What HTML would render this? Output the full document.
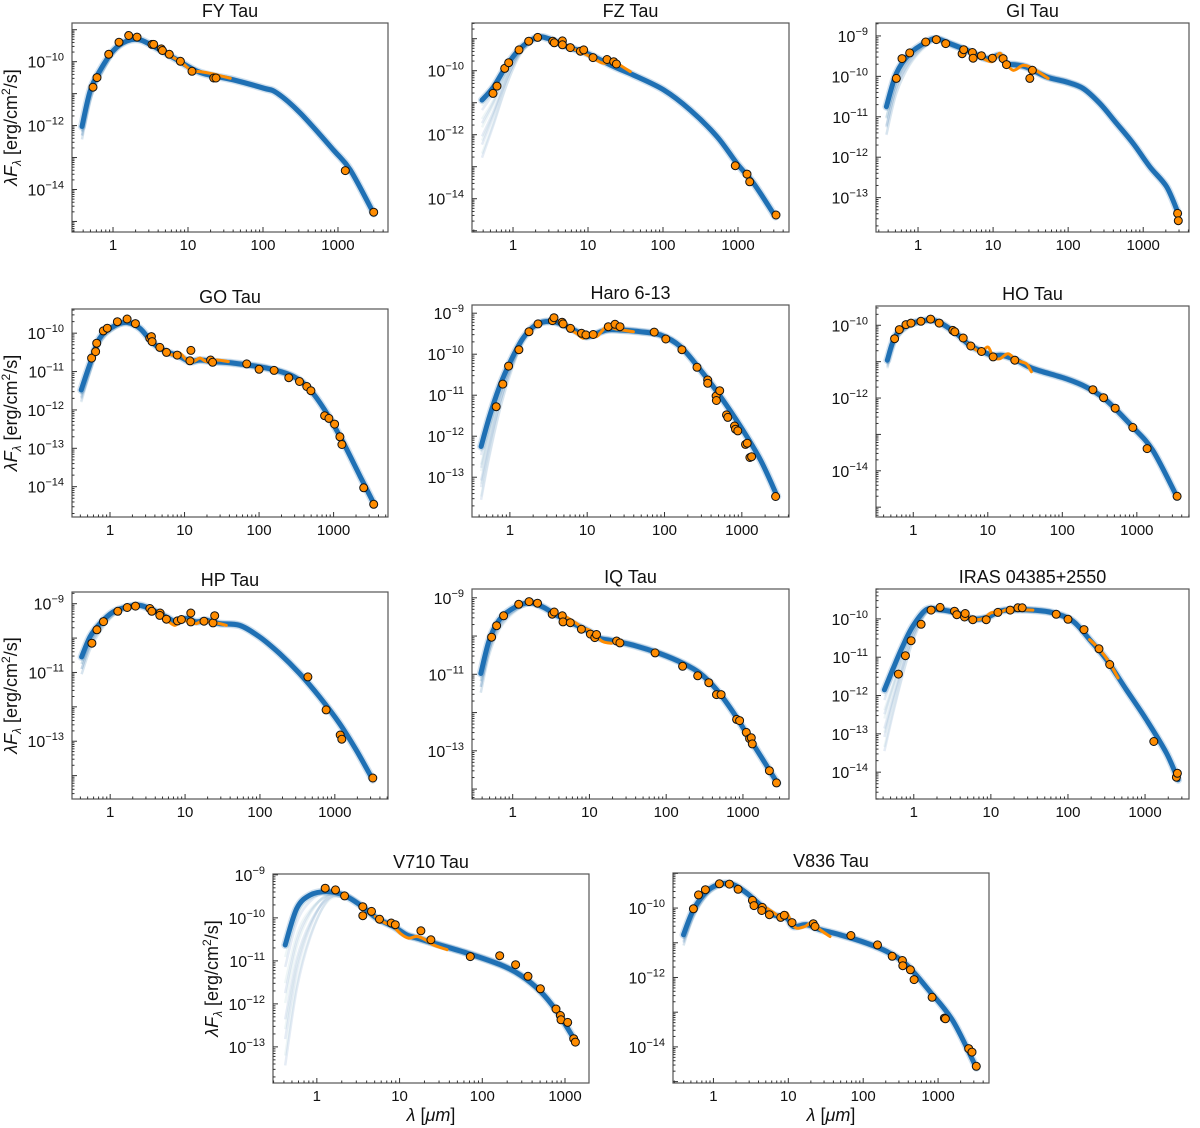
<!DOCTYPE html>
<html><head><meta charset="utf-8"><title>SED fits</title>
<style>
html,body{margin:0;padding:0;background:#fff;}
svg{display:block;font-family:"Liberation Sans","DejaVu Sans",sans-serif;}
</style></head>
<body>
<svg id="fig" width="1200" height="1128" viewBox="0 0 1200 1128" xmlns="http://www.w3.org/2000/svg"></svg>
<script>
// ---- Data (log10 wavelength [um], log10 lambda*F_lambda [erg/cm2/s]) ----
const fyModelX=[-0.413,-0.302,-0.169,0.009,0.187,0.364,0.587,0.853,1.164,1.609,2.009,2.187,2.498,2.942,3.164,3.476];
const fyModelY=[-12.03,-10.89,-10.26,-9.64,-9.35,-9.32,-9.58,-9.94,-10.34,-10.57,-10.83,-10.98,-11.61,-12.77,-13.39,-14.75];
const fyPtsX=[-0.267,-0.213,-0.058,0.08,0.209,0.32,0.52,0.542,0.644,0.658,0.751,0.898,1.053,1.342,1.373,3.098,3.476];
const fyPtsY=[-10.80,-10.50,-9.77,-9.39,-9.18,-9.23,-9.46,-9.46,-9.60,-9.65,-9.77,-9.99,-10.30,-10.51,-10.51,-13.41,-14.71];
const fySpecX=[0.698,0.898,1.053,1.164,1.342,1.564];
const fySpecY=[-9.74,-10.0,-10.29,-10.31,-10.39,-10.52];

const fzModelX=[-0.413,-0.258,-0.08,0.098,0.32,0.498,0.72,0.987,1.342,1.609,2.009,2.364,2.72,2.987,3.209,3.498];
const fzModelY=[-10.92,-10.5,-9.82,-9.30,-8.96,-9.02,-9.25,-9.46,-9.87,-10.14,-10.60,-11.23,-12.06,-12.90,-13.52,-14.56];
const fzPtsX=[-0.267,-0.213,-0.111,-0.058,0.08,0.209,0.329,0.529,0.551,0.658,0.658,0.764,0.898,0.942,1.067,1.253,1.342,1.378,2.964,3.12,3.156,3.507];
const fzPtsY=[-10.71,-10.48,-9.93,-9.75,-9.35,-9.08,-8.96,-9.08,-9.13,-9.07,-9.19,-9.28,-9.39,-9.35,-9.59,-9.65,-9.72,-9.79,-12.97,-13.23,-13.47,-14.51];
const fzSpecX=[0.72,0.898,1.076,1.209,1.342,1.431,1.564];
const fzSpecY=[-9.25,-9.41,-9.62,-9.77,-9.67,-9.83,-10.03];

const giModelX=[-0.422,-0.289,-0.111,0.111,0.244,0.422,0.644,0.911,1.089,1.178,1.311,1.444,1.711,1.978,2.2,2.422,2.644,2.867,3.089,3.311,3.467];
const giModelY=[-10.75,-9.93,-9.44,-9.15,-9.07,-9.19,-9.35,-9.56,-9.48,-9.68,-9.72,-9.77,-10.01,-10.14,-10.30,-10.67,-11.16,-11.66,-12.24,-12.73,-13.39];
const giPtsX=[-0.289,-0.213,-0.111,0.102,0.244,0.369,0.587,0.609,0.724,0.733,0.844,0.991,1.133,1.178,1.524,1.489,3.458,3.467];
const giPtsY=[-10.05,-9.56,-9.42,-9.15,-9.09,-9.19,-9.44,-9.34,-9.41,-9.55,-9.49,-9.55,-9.56,-9.71,-9.85,-10.05,-13.39,-13.57];
const giSpecX=[0.8,0.978,1.089,1.156,1.267,1.4,1.533,1.733];
const giSpecY=[-9.48,-9.64,-9.43,-9.64,-9.85,-9.73,-9.81,-10.05];

const goModelX=[-0.386,-0.274,-0.139,0.04,0.22,0.399,0.578,0.758,0.937,1.072,1.206,1.386,1.655,2.103,2.462,2.686,2.91,3.135,3.359,3.538];
const goModelY=[-11.48,-10.83,-10.13,-9.83,-9.72,-9.87,-10.26,-10.48,-10.61,-10.74,-10.70,-10.74,-10.78,-10.91,-11.13,-11.48,-12.09,-12.87,-13.74,-14.43];
const goPtsX=[-0.247,-0.193,-0.179,-0.09,-0.036,0.099,0.229,0.341,0.534,0.556,0.565,0.668,0.758,0.901,1.085,1.072,1.35,1.377,1.834,2.0,2.202,2.399,2.543,2.641,2.695,2.879,2.937,3.013,3.085,3.112,3.404,3.538];
const goPtsY=[-10.65,-10.48,-10.26,-9.94,-9.87,-9.70,-9.63,-9.75,-10.13,-10.09,-10.22,-10.37,-10.50,-10.57,-10.45,-10.72,-10.70,-10.76,-10.80,-10.94,-10.97,-11.16,-11.26,-11.39,-11.50,-12.15,-12.22,-12.37,-12.70,-12.90,-14.03,-14.46];
const goSpecX=[0.735,0.848,0.937,1.027,1.117,1.206,1.296,1.43,1.587];
const goSpecY=[-10.48,-10.57,-10.52,-10.70,-10.74,-10.65,-10.74,-10.70,-10.74];

const haModelX=[-0.372,-0.264,-0.134,-0.004,0.169,0.342,0.515,0.688,0.905,0.991,1.078,1.251,1.424,1.684,1.944,2.203,2.463,2.723,2.983,3.242,3.459];
const haModelY=[-12.25,-11.52,-10.79,-10.22,-9.61,-9.28,-9.20,-9.28,-9.49,-9.57,-9.53,-9.41,-9.41,-9.45,-9.53,-9.81,-10.38,-11.03,-11.76,-12.58,-13.47];
const haPtsX=[-0.177,-0.091,-0.017,0.117,0.247,0.364,0.55,0.571,0.675,0.688,0.784,0.926,0.983,1.078,1.273,1.359,1.424,1.866,2.017,2.225,2.42,2.558,2.558,2.667,2.671,2.714,2.801,2.818,2.905,2.918,2.948,3.048,3.069,3.104,3.126,3.437];
const haPtsY=[-11.28,-10.73,-10.29,-9.89,-9.45,-9.26,-9.18,-9.11,-9.22,-9.26,-9.37,-9.49,-9.53,-9.52,-9.33,-9.27,-9.33,-9.46,-9.63,-9.89,-10.32,-10.63,-10.71,-11.02,-11.13,-10.89,-11.48,-11.54,-11.75,-11.83,-11.87,-12.20,-12.17,-12.52,-12.50,-13.47];
const haSpecX=[0.753,0.861,0.948,1.035,1.121,1.251,1.381,1.597];
const haSpecY=[-9.37,-9.49,-9.61,-9.49,-9.57,-9.33,-9.39,-9.45];

const hoModelX=[-0.348,-0.246,-0.089,0.179,0.357,0.58,0.759,0.938,1.071,1.205,1.384,1.607,2.054,2.321,2.589,2.946,3.214,3.54];
const hoModelY=[-10.96,-10.32,-10.0,-9.86,-9.93,-10.23,-10.55,-10.73,-10.83,-10.83,-10.96,-11.19,-11.47,-11.70,-12.06,-12.80,-13.44,-14.72];
const hoPtsX=[-0.25,-0.188,-0.098,-0.031,0.103,0.232,0.348,0.531,0.558,0.67,0.772,0.915,1.071,1.362,2.411,2.554,2.71,2.946,3.138,3.54];
const hoPtsY=[-10.37,-10.12,-9.98,-9.94,-9.89,-9.83,-9.94,-10.14,-10.18,-10.35,-10.57,-10.72,-10.87,-10.96,-11.77,-11.99,-12.28,-12.81,-13.39,-14.70];
const hoSpecX=[0.737,0.893,1.004,1.071,1.161,1.272,1.384,1.518,1.585];
const hoSpecY=[-10.50,-10.73,-10.60,-10.87,-10.92,-10.78,-10.96,-11.06,-11.28];

const hpModelX=[-0.382,-0.271,-0.138,0.04,0.218,0.396,0.573,0.751,0.884,1.018,1.151,1.284,1.462,1.729,1.996,2.262,2.529,2.796,3.062,3.284,3.507];
const hpModelY=[-10.55,-9.97,-9.58,-9.24,-9.10,-9.05,-9.19,-9.39,-9.53,-9.43,-9.53,-9.48,-9.58,-9.63,-9.97,-10.45,-11.03,-11.71,-12.48,-13.25,-14.12];
const hpPtsX=[-0.244,-0.178,-0.089,0.102,0.227,0.338,0.529,0.556,0.667,0.662,0.751,0.898,0.951,1.076,1.076,1.253,1.373,1.396,2.64,2.884,3.071,3.093,3.507];
const hpPtsY=[-10.15,-9.76,-9.52,-9.22,-9.11,-9.07,-9.14,-9.22,-9.27,-9.34,-9.45,-9.50,-9.46,-9.27,-9.53,-9.51,-9.56,-9.35,-11.13,-12.09,-12.82,-12.94,-14.07];
const hpSpecX=[0.729,0.862,0.951,1.062,1.151,1.24,1.329,1.462,1.551];
const hpSpecY=[-9.43,-9.63,-9.48,-9.53,-9.58,-9.48,-9.53,-9.58,-9.63];

const iqModelX=[-0.415,-0.306,-0.175,0,0.218,0.393,0.568,0.786,1.004,1.135,1.266,1.572,1.921,2.227,2.445,2.664,2.882,3.1,3.319,3.45];
const iqModelY=[-10.98,-10.11,-9.58,-9.28,-9.13,-9.24,-9.45,-9.67,-9.89,-10.06,-10.11,-10.24,-10.46,-10.72,-10.98,-11.42,-12.02,-12.72,-13.42,-13.85];
const iqPtsX=[-0.275,-0.21,-0.118,0.079,0.214,0.323,0.515,0.541,0.646,0.655,0.751,0.895,1.013,1.07,1.092,1.354,1.397,1.856,2.214,2.41,2.555,2.655,2.716,2.917,2.956,3.044,3.087,3.109,3.122,3.345,3.437];
const iqPtsY=[-10.03,-9.73,-9.47,-9.17,-9.10,-9.14,-9.43,-9.37,-9.47,-9.63,-9.65,-9.82,-9.95,-10.04,-9.96,-10.13,-10.18,-10.44,-10.79,-11.04,-11.22,-11.53,-11.53,-12.18,-12.21,-12.52,-12.68,-12.66,-12.82,-13.52,-13.84];
const iqSpecX=[0.699,0.83,0.917,1.004,1.092,1.179,1.288];
const iqSpecY=[-9.50,-9.67,-9.80,-9.85,-10.02,-10.15,-10.19];

const irModelX=[-0.381,-0.273,-0.143,-0.013,0.16,0.333,0.55,0.766,0.939,1.113,1.286,1.545,1.805,2.065,2.281,2.498,2.758,3.017,3.277,3.429];
const irModelY=[-11.85,-11.32,-10.71,-10.19,-9.76,-9.76,-9.84,-10.0,-9.97,-9.80,-9.76,-9.77,-9.84,-10.06,-10.54,-11.06,-11.85,-12.63,-13.50,-14.20];
const irPtsX=[-0.199,-0.108,-0.035,0.095,0.225,0.342,0.528,0.558,0.658,0.667,0.766,0.939,1.091,1.251,1.351,1.407,1.848,2.0,2.208,2.403,2.541,3.113,3.407,3.42];
const irPtsY=[-11.44,-10.96,-10.57,-10.14,-9.77,-9.70,-9.80,-9.89,-9.95,-9.86,-10.02,-10.02,-9.83,-9.77,-9.71,-9.71,-9.88,-10.01,-10.28,-10.78,-11.19,-13.20,-14.13,-14.03];
const irSpecX=[0.701,0.81,0.918,1.004,1.113,1.199,1.329,1.545];
const irSpecY=[-9.93,-10.02,-9.97,-9.84,-9.84,-9.76,-9.76,-9.77];
const irSpec2X=[2.281,2.411,2.541,2.649];
const irSpec2Y=[-10.54,-10.80,-11.15,-11.54];

const v7ModelX=[-0.383,-0.242,-0.081,0.121,0.323,0.524,0.726,0.927,1.089,1.21,1.411,1.815,2.218,2.46,2.702,2.903,3.105];
const v7ModelY=[-10.63,-9.78,-9.47,-9.39,-9.47,-9.70,-10.01,-10.20,-10.40,-10.47,-10.59,-10.82,-11.09,-11.33,-11.71,-12.18,-12.80];
const v7PtsX=[0.101,0.226,0.335,0.556,0.556,0.661,0.758,0.899,0.948,1.258,1.379,1.855,2.21,2.403,2.552,2.702,2.891,2.944,2.952,3.032,3.105,3.125];
const v7PtsY=[-9.31,-9.35,-9.49,-9.74,-9.95,-9.85,-10.03,-10.12,-10.16,-10.30,-10.51,-10.90,-10.88,-11.09,-11.36,-11.65,-12.12,-12.27,-12.37,-12.43,-12.81,-12.89];
const v7SpecX=[0.706,0.827,0.907,1.008,1.109,1.21,1.31,1.411,1.573];
const v7SpecY=[-9.97,-10.12,-10.16,-10.36,-10.47,-10.43,-10.51,-10.63,-10.74];

const v8ModelX=[-0.4,-0.267,-0.089,0.089,0.267,0.444,0.622,0.8,0.978,1.067,1.244,1.422,1.689,2.044,2.311,2.578,2.889,3.2,3.511];
const v8ModelY=[-10.77,-10.05,-9.52,-9.31,-9.33,-9.57,-9.90,-10.19,-10.29,-10.53,-10.48,-10.62,-10.77,-11.01,-11.25,-11.63,-12.40,-13.26,-14.60];
const v8PtsX=[-0.267,-0.2,-0.107,0.08,0.213,0.329,0.52,0.542,0.653,0.644,0.747,0.898,0.947,1.049,1.333,1.356,1.836,2.191,2.387,2.524,2.529,2.631,2.68,2.92,3.084,3.098,3.409,3.453,3.511];
const v8PtsY=[-10.02,-9.62,-9.47,-9.30,-9.31,-9.46,-9.78,-9.93,-9.98,-10.07,-10.19,-10.27,-10.21,-10.42,-10.45,-10.53,-10.79,-11.06,-11.39,-11.51,-11.66,-11.78,-12.06,-12.57,-13.17,-13.19,-14.05,-14.15,-14.56];
const v8SpecX=[0.711,0.844,0.911,0.978,1.044,1.111,1.222,1.311,1.422,1.556];
const v8SpecY=[-10.0,-10.19,-10.29,-10.14,-10.43,-10.58,-10.53,-10.43,-10.62,-10.82];

const xTickValues=[1,10,100,1000];
const xTickLabels=["1","10","100","1000"];

const panels=[
 {id:"fy-tau",title:"FY Tau",x0:72,x1:388,y0:23,y1:232,lx:[-0.547,3.667],ly:[-15.33,-8.79],yt:[-10,-12,-14],mx:fyModelX,my:fyModelY,px:fyPtsX,py:fyPtsY,sx:[fySpecX],sy:[fySpecY],spread:0.4,ylab:true},
 {id:"fz-tau",title:"FZ Tau",x0:472,x1:789,y0:23,y1:232,lx:[-0.547,3.68],ly:[-15.04,-8.51],yt:[-10,-12,-14],mx:fzModelX,my:fzModelY,px:fzPtsX,py:fzPtsY,sx:[fzSpecX],sy:[fzSpecY],spread:1.8},
 {id:"gi-tau",title:"GI Tau",x0:876,x1:1189,y0:23,y1:232,lx:[-0.56,3.61],ly:[-13.85,-8.68],yt:[-9,-10,-11,-12,-13],mx:giModelX,my:giModelY,px:giPtsX,py:giPtsY,sx:[giSpecX],sy:[giSpecY],spread:0.7},
 {id:"go-tau",title:"GO Tau",x0:72,x1:388,y0:309,y1:517,lx:[-0.51,3.73],ly:[-14.79,-9.37],yt:[-10,-11,-12,-13,-14],mx:goModelX,my:goModelY,px:goPtsX,py:goPtsY,sx:[goSpecX],sy:[goSpecY],spread:0.3,ylab:true},
 {id:"haro-6-13",title:"Haro 6-13",x0:472,x1:789,y0:305,y1:517,lx:[-0.49,3.61],ly:[-13.97,-8.80],yt:[-9,-10,-11,-12,-13],mx:haModelX,my:haModelY,px:haPtsX,py:haPtsY,sx:[haSpecX],sy:[haSpecY],spread:1.3},
 {id:"ho-tau",title:"HO Tau",x0:876,x1:1189,y0:306,y1:517,lx:[-0.50,3.70],ly:[-15.27,-9.47],yt:[-10,-12,-14],mx:hoModelX,my:hoModelY,px:hoPtsX,py:hoPtsY,sx:[hoSpecX],sy:[hoSpecY],spread:0.2},
 {id:"hp-tau",title:"HP Tau",x0:72,x1:388,y0:592,y1:799,lx:[-0.51,3.71],ly:[-14.68,-8.66],yt:[-9,-11,-13],mx:hpModelX,my:hpModelY,px:hpPtsX,py:hpPtsY,sx:[hpSpecX],sy:[hpSpecY],spread:0.5,ylab:true},
 {id:"iq-tau",title:"IQ Tau",x0:472,x1:789,y0:589,y1:799,lx:[-0.53,3.60],ly:[-14.26,-8.77],yt:[-9,-11,-13],mx:iqModelX,my:iqModelY,px:iqPtsX,py:iqPtsY,sx:[iqSpecX],sy:[iqSpecY],spread:0.5},
 {id:"iras-04385",title:"IRAS 04385+2550",x0:876,x1:1189,y0:589,y1:799,lx:[-0.49,3.57],ly:[-14.70,-9.22],yt:[-10,-11,-12,-13,-14],mx:irModelX,my:irModelY,px:irPtsX,py:irPtsY,sx:[irSpecX,irSpec2X],sy:[irSpecY,irSpec2Y],spread:1.6},
 {id:"v710-tau",title:"V710 Tau",x0:273,x1:589,y0:874,y1:1083,lx:[-0.53,3.29],ly:[-13.84,-8.98],yt:[-9,-10,-11,-12,-13],mx:v7ModelX,my:v7ModelY,px:v7PtsX,py:v7PtsY,sx:[v7SpecX],sy:[v7SpecY],spread:2.8,ylab:true,xlab:true},
 {id:"v836-tau",title:"V836 Tau",x0:673,x1:989,y0:873,y1:1083,lx:[-0.54,3.68],ly:[-15.04,-8.99],yt:[-10,-12,-14],mx:v8ModelX,my:v8ModelY,px:v8PtsX,py:v8PtsY,sx:[v8SpecX],sy:[v8SpecY],spread:0.3,xlab:true}
];

const NS="http://www.w3.org/2000/svg";
const svg=document.getElementById("fig");
function mk(tag,attrs,parent){const e=document.createElementNS(NS,tag);for(const k in attrs)e.setAttribute(k,attrs[k]);(parent||svg).appendChild(e);return e;}
function smooth(P){
  if(P.length<2)return "";
  let d="M"+P[0][0].toFixed(1)+","+P[0][1].toFixed(1);
  for(let i=0;i<P.length-1;i++){
    const p0=P[Math.max(0,i-1)],p1=P[i],p2=P[i+1],p3=P[Math.min(P.length-1,i+2)];
    const c1x=p1[0]+(p2[0]-p0[0])/6,c1y=p1[1]+(p2[1]-p0[1])/6;
    const c2x=p2[0]-(p3[0]-p1[0])/6,c2y=p2[1]-(p3[1]-p1[1])/6;
    d+=" C"+c1x.toFixed(1)+","+c1y.toFixed(1)+" "+c2x.toFixed(1)+","+c2y.toFixed(1)+" "+p2[0].toFixed(1)+","+p2[1].toFixed(1);
  }
  return d;
}

panels.forEach(p=>{
  const g=mk("g",{});
  
  
  const sx=v=>p.x0+(v-p.lx[0])/(p.lx[1]-p.lx[0])*(p.x1-p.x0);
  const sy=v=>p.y1-(v-p.ly[0])/(p.ly[1]-p.ly[0])*(p.y1-p.y0);
  const cid="clip-"+p.id;
  const cp=mk("clipPath",{id:cid},g);
  mk("rect",{x:p.x0,y:p.y0,width:p.x1-p.x0,height:p.y1-p.y0},cp);
  const plot=mk("g",{"clip-path":"url(#"+cid+")"},g);

  const n=10, lxs=0.25;
  for(let k=1;k<=n;k++){
    const P=p.mx.map((x,i)=>{
      let off=0;
      if(x<lxs){const f=(lxs-x)/(lxs-p.mx[0]);off=-p.spread*(k/n)*Math.pow(f,1.6);}
      const sh=((k%3)-1)*0.05;
      return [sx(x),sy(p.my[i]+off+sh)];
    });
    const col=k%2?"#8fbcc4":"#4a78b8";
    const draw=mk("path",{d:smooth(P),fill:"none",stroke:col,"stroke-width":2.5,"stroke-opacity":0.14,"stroke-linejoin":"round"},plot);
    
    
  }
  const MP=p.mx.map((x,i)=>[sx(x),sy(p.my[i])]);
  const md=smooth(MP);
  const halo=mk("path",{d:md,fill:"none",stroke:"#2f78b8","stroke-width":8,"stroke-opacity":0.22,"stroke-linecap":"round"},plot);
  
  
  const main=mk("path",{d:md,fill:"none",stroke:"#1f70b4","stroke-width":5,"stroke-linecap":"round"},plot);
  
  

  p.sx.forEach((arr,j)=>{
    const SP=arr.map((x,i)=>[sx(x),sy(p.sy[j][i])]);
    const s=mk("path",{d:smooth(SP),fill:"none",stroke:"#ff8c00","stroke-width":3,"stroke-linecap":"round"},plot);
    
    
  });

  p.px.forEach((x,i)=>{
    const c=mk("circle",{cx:sx(x).toFixed(1),cy:sy(p.py[i]).toFixed(1),r:4,fill:"#ff8c00",stroke:"#111","stroke-width":1},plot);
    
    
  });

  const fr=mk("rect",{x:p.x0,y:p.y0,width:p.x1-p.x0,height:p.y1-p.y0,fill:"none",stroke:"#555","stroke-width":1.2},g);
  
  

  for(let d=-1;d<=4;d++){
    for(let m=1;m<10;m++){
      const lv=d+Math.log10(m);
      if(lv<p.lx[0]||lv>p.lx[1])continue;
      const X=sx(lv);
      mk("line",{x1:X,x2:X,y1:p.y1,y2:p.y1-(m===1?5:2.5),stroke:"#333","stroke-width":1},g);
    }
  }
  xTickValues.forEach((v,i)=>{
    const t=mk("text",{x:sx(Math.log10(v)),y:p.y1+18,"text-anchor":"middle","font-size":15,fill:"#111"},g);
    t.textContent=xTickLabels[i];
    
    
  });
  for(let d=-16;d<=-8;d++){
    for(let m=1;m<10;m++){
      const lv=d+Math.log10(m);
      if(lv<p.ly[0]||lv>p.ly[1])continue;
      const Y=sy(lv);
      mk("line",{x1:p.x0,x2:p.x0+(m===1?5:2.5),y1:Y,y2:Y,stroke:"#333","stroke-width":1},g);
    }
  }
  p.yt.forEach(e=>{
    const t=mk("text",{x:p.x0-8,y:sy(e)+6,"text-anchor":"end","font-size":16,fill:"#111"},g);
    const a=mk("tspan",{},t);a.textContent="10";
    const b=mk("tspan",{dy:-7,"font-size":11},t);b.textContent="\u2212"+(-e);
    
    
  });

  const tt=mk("text",{x:(p.x0+p.x1)/2,y:p.y0-6,"text-anchor":"middle","font-size":18,fill:"#111"},g);
  tt.textContent=p.title;
  
  

  if(p.ylab){
    const cy=(p.y0+p.y1)/2, cx=p.x0-55;
    const yl=mk("text",{x:cx,y:cy,"text-anchor":"middle","font-size":18,fill:"#111",transform:"rotate(-90 "+cx+" "+cy+")"},g);
    const a=mk("tspan",{"font-style":"italic"},yl);a.textContent="\u03bbF";
    const b=mk("tspan",{dy:4,"font-size":12,"font-style":"italic"},yl);b.textContent="\u03bb";
    const c=mk("tspan",{dy:-4},yl);c.textContent=" [erg/cm";
    const d=mk("tspan",{dy:-7,"font-size":12},yl);d.textContent="2";
    const e=mk("tspan",{dy:7},yl);e.textContent="/s]";
    
    
  }
  if(p.xlab){
    const xl=mk("text",{x:(p.x0+p.x1)/2,y:p.y1+38,"text-anchor":"middle","font-size":18,fill:"#111"},g);
    const a=mk("tspan",{"font-style":"italic"},xl);a.textContent="\u03bb";
    const b=mk("tspan",{},xl);b.textContent=" [";
    const c=mk("tspan",{"font-style":"italic"},xl);c.textContent="\u03bcm";
    const d=mk("tspan",{},xl);d.textContent="]";
    
    
  }
});
</script>
</body></html>
